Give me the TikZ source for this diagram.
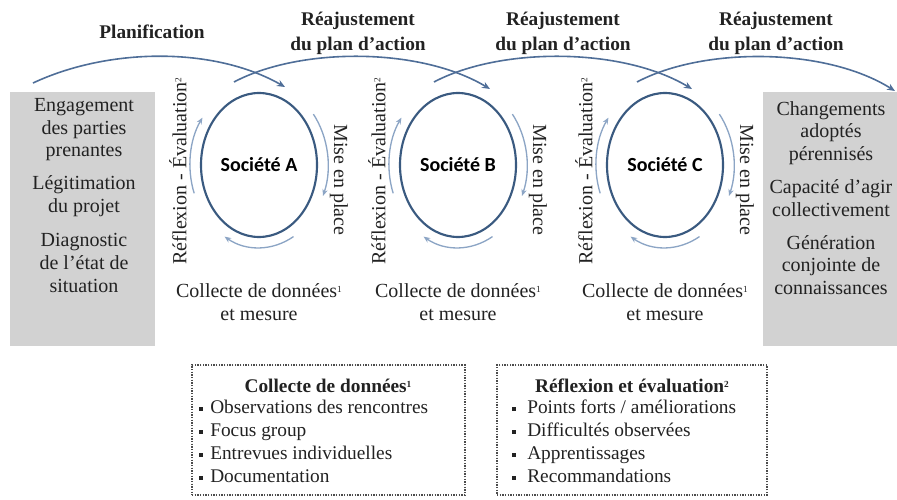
\documentclass[tikz,border=0pt]{standalone}
\usepackage{fontspec}
\setmainfont{Liberation Serif}
\newfontfamily\socfont{Carlito}
\usetikzlibrary{shapes.geometric,arrows.meta,calc}
\definecolor{ringc}{HTML}{3A5A80}
\definecolor{arcc}{HTML}{4F6E98}
\definecolor{smallc}{HTML}{8CA5C5}
\definecolor{boxg}{HTML}{D2D2D2}
\definecolor{txtc}{HTML}{222222}
\newcommand{\supnum}[1]{\raisebox{0.55ex}{\fontsize{7}{7}\selectfont #1}}
\begin{document}
\begin{tikzpicture}[x=0.75pt,y=0.75pt,
  txt/.style={text=txtc, font=\fontsize{15}{16.9}\selectfont, align=center, inner sep=0pt},
  ttl/.style={text=txtc, font=\bfseries\fontsize{14.5}{18.75}\selectfont, align=center, inner sep=0pt},
  socring/.style={ellipse, draw=ringc, line width=1.6pt, minimum width=87pt, minimum height=108pt, inner sep=0pt, font=\socfont\bfseries\fontsize{15}{18}\selectfont, text=black},
  cyc/.style={draw=smallc, line width=1pt, -{Stealth[length=5pt,width=4pt]}},
  toparc/.style={draw=arcc, line width=1.2pt, -{Stealth[length=6pt,width=5pt]}},
  gbox/.style={fill=boxg, inner sep=0pt},
  dbox/.style={draw=black!70, dash pattern=on 1pt off 1pt, line width=0.8pt, inner sep=0pt},
  listitem/.style={text=txtc, font=\fontsize{14.5}{16}\selectfont, anchor=west, inner sep=0pt, text height=10pt, text depth=3pt},
  bul/.style={fill=txtc, minimum size=3.5pt, inner sep=0pt}
]
\useasboundingbox (0,0) rectangle (897,-500);

% side boxes
\node[gbox, minimum width=108.75pt, minimum height=190pt] (L) at (82.5,-219) {};
\node[txt] (L1) at (84,-130) {Engagement\\des parties\\prenantes};
\node[txt] (L2) at (84,-196) {Légitimation\\du projet};
\node[txt] (L3) at (84,-263) {Diagnostic\\de l’état de\\situation};

\node[gbox, minimum width=100.5pt, minimum height=190pt] (R) at (830,-219) {};
\node[txt] (R1) at (831,-133) {Changements\\adoptés\\pérennisés};
\node[txt] (R2) at (831,-198) {Capacité d’agir\\collectivement};
\node[txt] (R3) at (831,-265) {Génération\\conjointe de\\connaissances};

% societies
\node[socring] (A) at (259,-165) {Société A};
\node[socring] (B) at (458,-165) {Société B};
\node[socring] (C) at (665,-165) {Société C};

\foreach \n/\x in {A/259,B/458,C/665}{
  \draw[cyc] ($(\n)+(200:51.75pt and 62pt)$) arc[start angle=200,end angle=145,x radius=51.75pt,y radius=62pt];
  \draw[cyc] ($(\n)+(38:51.75pt and 62pt)$) arc[start angle=38,end angle=-22,x radius=51.75pt,y radius=62pt];
  \draw[cyc] ($(\n)+(-60:51.75pt and 62pt)$) arc[start angle=-60,end angle=-120,x radius=51.75pt,y radius=62pt];
  \node[txt,rotate=90] (r\n) at (\x-81,-171) {Réflexion - Évaluation\supnum{2}};
  \node[txt,rotate=-90] (m\n) at (\x+80,-180) {Mise en place};
  \node[txt] (d\n) at (\x,-302) {Collecte de données\supnum{1}\\et mesure};
}

% top labels
\node[ttl] (t1) at (152,-32) {Planification};
\node[ttl] (t2) at (358,-33) {Réajustement\\du plan d’action};
\node[ttl] (t3) at (563,-33) {Réajustement\\du plan d’action};
\node[ttl] (t4) at (776,-33) {Réajustement\\du plan d’action};

% top arcs
\coordinate (s1) at (33,-83);  \coordinate (e1) at (285,-87);
\coordinate (s2) at (234,-82); \coordinate (e2) at (490,-89);
\coordinate (s3) at (434,-82); \coordinate (e3) at (692,-89);
\coordinate (s4) at (637,-82); \coordinate (e4) at (895,-91);
\draw[toparc] (s1) .. controls (110,-47) and (215,-47) .. (e1);
\draw[toparc] (s2) .. controls (300,-47) and (420,-47) .. (e2);
\draw[toparc] (s3) .. controls (500,-47) and (622,-47) .. (e3);
\draw[toparc] (s4) .. controls (703,-47) and (825,-47) .. (e4);

% bottom boxes
\node[dbox, minimum width=204.75pt, minimum height=97.5pt] (BL) at (328.5,-430) {};
\node[ttl] (BLh) at (328,-386) {Collecte de données\supnum{1}};
\node[listitem] (BL1) at (210,-409) {Observations des rencontres};
\node[listitem] (BL2) at (210,-432) {Focus group};
\node[listitem] (BL3) at (210,-455) {Entrevues individuelles};
\node[listitem] (BL4) at (210,-478) {Documentation};
\foreach \y in {409,432,455,478}{\node[bul] at (201,-\y) {};}

\node[dbox, minimum width=202.5pt, minimum height=97.5pt] (BR) at (632,-430) {};
\node[ttl] (BRh) at (632,-386) {Réflexion et évaluation\supnum{2}};
\node[listitem] (BR1) at (527,-409) {Points forts / améliorations};
\node[listitem] (BR2) at (527,-432) {Difficultés observées};
\node[listitem] (BR3) at (527,-455) {Apprentissages};
\node[listitem] (BR4) at (527,-478) {Recommandations};
\foreach \y in {409,432,455,478}{\node[bul] at (514,-\y) {};}
\end{tikzpicture}
\end{document}
